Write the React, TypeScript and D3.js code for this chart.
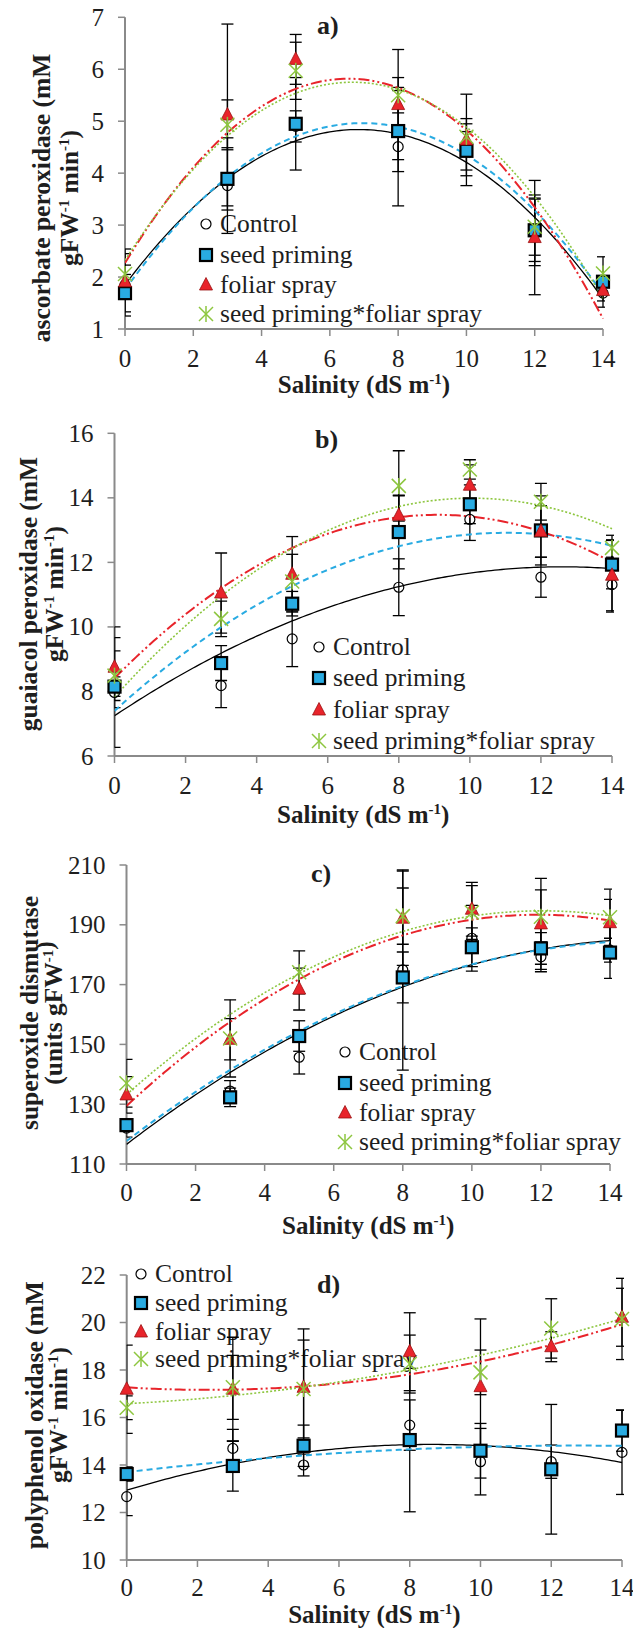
import React from "react";
import * as d3 from "d3";

// ---------- data ----------
const salinity = [0, 3, 5, 8, 10, 12, 14];
const xTickValues = [0, 2, 4, 6, 8, 10, 12, 14];
const seriesNames = ["Control", "seed priming", "foliar spray", "seed priming*foliar spray"];

// a) ascorbate peroxidase
const apxControl = [1.85, 3.76, 4.9, 4.51, 4.45, 2.9, 1.69];
const apxSeed = [1.69, 3.89, 4.95, 4.81, 4.43, 2.9, 1.91];
const apxFoliar = [1.91, 5.12, 6.19, 5.32, 4.64, 2.76, 1.74];
const apxBoth = [2.06, 4.93, 5.97, 5.5, 4.7, 2.97, 2.07];
const apxControlErr = [0.6, 0.92, 0.3, 1.14, 0.5, 0.6, 0.27];
const apxSeedErr = [0.36, 0.6, 0.89, 0.78, 0.37, 0.68, 0.1];
const apxFoliarErr = [0.32, 1.75, 0.48, 1.06, 0.88, 1.1, 0.2];
const apxBothErr = [0.48, 0.48, 0.55, 0.34, 0.35, 0.55, 0.32];
const apxTicks = [1, 2, 3, 4, 5, 6, 7];

// b) guaiacol peroxidase
const gpxControl = [7.97, 8.18, 9.63, 11.23, 13.33, 11.54, 11.31];
const gpxSeed = [8.15, 8.88, 10.72, 12.94, 13.8, 12.99, 11.93];
const gpxFoliar = [8.75, 11.05, 11.63, 13.46, 14.39, 12.96, 11.6];
const gpxBoth = [8.49, 10.25, 11.41, 14.37, 14.88, 13.88, 12.45];
const gpxControlErr = [1.7, 0.68, 0.86, 0.88, 0.65, 0.62, 0.85];
const gpxSeedErr = [0.3, 0.54, 0.38, 1.14, 0.6, 1.07, 0.75];
const gpxFoliarErr = [1.25, 1.24, 1.17, 0.6, 0.63, 0.8, 1.1];
const gpxBothErr = [0.77, 0.55, 0.84, 1.09, 0.3, 0.57, 0.39];
const gpxTicks = [6, 8, 10, 12, 14, 16];

// c) superoxide dismutase
const sodControl = [122.0, 134.4, 145.7, 174.9, 185.5, 179.3, 181.5];
const sodSeed = [123.0, 132.3, 152.8, 172.4, 182.5, 182.1, 180.7];
const sodFoliar = [133.1, 151.7, 168.5, 192.2, 195.2, 190.3, 190.7];
const sodBoth = [137.0, 152.0, 174.1, 192.9, 194.1, 192.7, 192.5];
const sodControlErr = [3, 3.5, 5.6, 33.5, 11, 5, 4];
const sodSeedErr = [2, 3.1, 5.1, 8.5, 6.5, 5.3, 8.6];
const sodFoliarErr = [6.1, 6.9, 7, 15.8, 9, 15.2, 7.8];
const sodBothErr = [8, 12.9, 7.2, 9.4, 9, 9, 9.4];
const sodTicks = [110, 130, 150, 170, 190, 210];

// d) polyphenol oxidase
const ppoControl = [12.67, 14.7, 14.0, 15.68, 14.14, 14.14, 14.53];
const ppoSeed = [13.62, 13.96, 14.81, 15.05, 14.6, 13.82, 15.45];
const ppoFoliar = [17.19, 17.19, 17.27, 18.77, 17.3, 18.98, 20.22];
const ppoBoth = [16.41, 17.27, 17.2, 18.25, 17.9, 19.75, 20.15];
const ppoControlErr = [0.8, 0.8, 0.46, 1.06, 1.4, 0.7, 1.77];
const ppoSeedErr = [0.3, 1.06, 0.87, 3.02, 1.15, 2.73, 0.87];
const ppoFoliarErr = [1.86, 2.19, 2.46, 1.64, 2.85, 0.63, 1.22];
const ppoBothErr = [0.5, 1.35, 2.06, 1.22, 0.94, 1.25, 1.71];
const ppoTicks = [10, 12, 14, 16, 18, 20, 22];

// ---------- styles ----------
const FONT = "'Liberation Serif', 'Times New Roman', Times, serif";
const AXIS = "#8a8a8a";
const TEXT = "#1e1e1e";
const BLUE = "#29abe2";
const RED = "#e8242b";
const GREEN = "#8dc63f";

const lineStyles = [
  { stroke: "#000", width: 1.3, dash: "" },
  { stroke: BLUE, width: 2, dash: "6,4" },
  { stroke: RED, width: 2, dash: "11,3,2,3,2,3" },
  { stroke: GREEN, width: 1.6, dash: "2,2" },
];

// ---------- panels ----------
const panels = [
  {
    key: "a", title: "a)", series: [apxControl, apxSeed, apxFoliar, apxBoth],
    errs: [apxControlErr, apxSeedErr, apxFoliarErr, apxBothErr], ticks: apxTicks,
    x0: 125, x1: 603, yTop: 17.3, yBot: 329,
    label: ["ascorbate peroxidase (mM", "gFW", "-1", " min", "-1", ")"],
    labelX: [50, 78], labelY: 198, titleX: 317, titleY: 34,
    xTickY: 367, xLabelY: 393, legendX: 206, legendY: [224, 255, 285, 314],
  },
  {
    key: "b", title: "b)", series: [gpxControl, gpxSeed, gpxFoliar, gpxBoth],
    errs: [gpxControlErr, gpxSeedErr, gpxFoliarErr, gpxBothErr], ticks: gpxTicks,
    x0: 114.5, x1: 612, yTop: 433.3, yBot: 756,
    label: ["guaiacol peroxidase (mM", "gFW", "-1", " min", "-1", ")"],
    labelX: [37, 63], labelY: 594, titleX: 315, titleY: 448,
    xTickY: 794, xLabelY: 823, legendX: 319, legendY: [647, 678, 710, 741],
  },
  {
    key: "c", title: "c)", series: [sodControl, sodSeed, sodFoliar, sodBoth],
    errs: [sodControlErr, sodSeedErr, sodFoliarErr, sodBothErr], ticks: sodTicks,
    x0: 126.5, x1: 610, yTop: 865, yBot: 1164,
    label: ["superoxide dismutase", "(units gFW", "-1", "", "", ")"],
    labelX: [38, 62], labelY: 1013, titleX: 311, titleY: 882,
    xTickY: 1201, xLabelY: 1234, legendX: 345, legendY: [1052, 1083, 1113, 1142],
  },
  {
    key: "d", title: "d)", series: [ppoControl, ppoSeed, ppoFoliar, ppoBoth],
    errs: [ppoControlErr, ppoSeedErr, ppoFoliarErr, ppoBothErr], ticks: ppoTicks,
    x0: 126.7, x1: 622, yTop: 1275, yBot: 1560,
    label: ["polyphenol oxidase (mM", "gFW", "-1", " min", "-1", ")"],
    labelX: [43, 67], labelY: 1415, titleX: 317, titleY: 1293,
    xTickY: 1596, xLabelY: 1623, legendX: 141, legendY: [1274, 1303, 1332, 1359],
  },
];

// quadratic least squares trendline (Excel polynomial order 2)
function quadFit(xs: number[], ys: number[]) {
  let n = xs.length, s1 = 0, s2 = 0, s3 = 0, s4 = 0, t0 = 0, t1 = 0, t2 = 0;
  for (let i = 0; i < n; i++) {
    const x = xs[i], y = ys[i];
    s1 += x; s2 += x * x; s3 += x * x * x; s4 += x * x * x * x;
    t0 += y; t1 += x * y; t2 += x * x * y;
  }
  const M = [[n, s1, s2], [s1, s2, s3], [s2, s3, s4]];
  const v = [t0, t1, t2];
  const det = (m: number[][]) =>
    m[0][0] * (m[1][1] * m[2][2] - m[1][2] * m[2][1]) -
    m[0][1] * (m[1][0] * m[2][2] - m[1][2] * m[2][0]) +
    m[0][2] * (m[1][0] * m[2][1] - m[1][1] * m[2][0]);
  const D = det(M);
  const coef = [0, 1, 2].map((c) => {
    const m = M.map((row, r) => row.map((val, k) => (k === c ? v[r] : val)));
    return det(m) / D;
  });
  return (x: number) => coef[0] + coef[1] * x + coef[2] * x * x;
}

function Marker({ kind, x, y }: { kind: number; x: number; y: number }) {
  if (kind === 0) return <circle cx={x} cy={y} r={5} fill="none" stroke="#000" strokeWidth={1.2} />;
  if (kind === 1)
    return <rect x={x - 6} y={y - 6} width={12} height={12} fill={BLUE} stroke="#000" strokeWidth={2.2} />;
  if (kind === 2)
    return (
      <path d={`M${x},${y - 7.5} L${x + 6.5},${y + 5} L${x - 6.5},${y + 5} Z`} fill={RED} stroke="#9a1010" strokeWidth={0.8} />
    );
  const s = 7;
  return (
    <g stroke={GREEN} strokeWidth={1.5}>
      <line x1={x - s} y1={y - s} x2={x + s} y2={y + s} />
      <line x1={x - s} y1={y + s} x2={x + s} y2={y - s} />
      <line x1={x} y1={y - s - 1} x2={x} y2={y + s + 1} />
    </g>
  );
}

function Panel({ p }: { p: (typeof panels)[number] }) {
  const xs = d3.scaleLinear().domain([0, 14]).range([p.x0, p.x1]);
  const ticks = p.ticks;
  const ys = d3.scaleLinear().domain([ticks[0], ticks[ticks.length - 1]]).range([p.yBot, p.yTop]);
  const curveX = d3.range(0, 14.0001, 0.1);
  const lineGen = (f: (x: number) => number) =>
    d3.line<number>().x((d) => xs(d)).y((d) => ys(f(d)))(curveX) || "";
  const fits = p.series.map((s) => quadFit(salinity, s));
  const clipId = "clip-" + p.key;

  return (
    <g>
      <defs>
        <clipPath id={clipId}>
          <rect x={p.x0} y={p.yTop - 60} width={p.x1 - p.x0 + 2} height={p.yBot - p.yTop + 60} />
        </clipPath>
      </defs>
      {/* axes */}
      <line x1={p.x0} y1={p.yBot} x2={p.x0} y2={p.yTop} stroke={AXIS} strokeWidth={2} />
      <line x1={p.x0} y1={p.yBot} x2={p.x1} y2={p.yBot} stroke={AXIS} strokeWidth={2} />
      {ticks.map((t) => (
        <g key={"yt" + t}>
          <line x1={p.x0 - 7} x2={p.x0} y1={ys(t)} y2={ys(t)} stroke={AXIS} strokeWidth={1.5} />
          <text x={p.x0 - 21} y={ys(t)} dy="0.34em" textAnchor="end" fontSize={25} fontFamily={FONT} fill={TEXT}>
            {t}
          </text>
        </g>
      ))}
      {xTickValues.map((t) => (
        <g key={"xt" + t}>
          <line x1={xs(t)} x2={xs(t)} y1={p.yBot} y2={p.yBot + 7} stroke={AXIS} strokeWidth={1.5} />
          <text x={xs(t)} y={p.xTickY} textAnchor="middle" fontSize={25} fontFamily={FONT} fill={TEXT}>
            {t}
          </text>
        </g>
      ))}
      {/* axis titles */}
      <text x={(p.x0 + p.x1) / 2} y={p.xLabelY} textAnchor="middle" fontSize={25} fontWeight="bold" fontFamily={FONT} fill={TEXT}>
        Salinity (dS m<tspan dy={-9} fontSize={15}>-1</tspan><tspan dy={9}>)</tspan>
      </text>
      <g transform={`translate(${p.labelX[0]},${p.labelY}) rotate(-90)`}>
        <text x={0} y={0} textAnchor="middle" fontSize={25.5} fontWeight="bold" fontFamily={FONT} fill={TEXT}>
          {p.label[0]}
        </text>
      </g>
      <g transform={`translate(${p.labelX[1]},${p.labelY}) rotate(-90)`}>
        <text x={0} y={0} textAnchor="middle" fontSize={25.5} fontWeight="bold" fontFamily={FONT} fill={TEXT}>
          {p.label[1]}
          <tspan dy={-9} fontSize={15}>{p.label[2]}</tspan>
          <tspan dy={9}>{p.label[3]}</tspan>
          {p.label[4] ? <tspan dy={-9} fontSize={15}>{p.label[4]}</tspan> : null}
          <tspan dy={p.label[4] ? 9 : 0}>{p.label[5]}</tspan>
        </text>
      </g>
      <text x={p.titleX} y={p.titleY} fontSize={26} fontWeight="bold" fontFamily={FONT} fill={TEXT}>
        {p.title}
      </text>
      {/* legend */}
      {seriesNames.map((name, i) => (
        <g key={"lg" + i}>
          <Marker kind={i} x={p.legendX} y={p.legendY[i]} />
          <text x={p.legendX + 14} y={p.legendY[i] + 8} fontSize={25.5} fontFamily={FONT} fill={TEXT}>
            {name}
          </text>
        </g>
      ))}
      {/* error bars and trendlines, clipped to the plot area */}
      <g clipPath={`url(#${clipId})`}>
        {p.series.map((s, si) =>
          s.map((v, i) => {
            const e = p.errs[si][i];
            const x = xs(salinity[i]);
            return (
              <g key={`eb${si}-${i}`} stroke="#000" strokeWidth={1.3}>
                <line x1={x} x2={x} y1={ys(v - e)} y2={ys(v + e)} />
                <line x1={x - 6} x2={x + 6} y1={ys(v - e)} y2={ys(v - e)} />
                <line x1={x - 6} x2={x + 6} y1={ys(v + e)} y2={ys(v + e)} />
              </g>
            );
          })
        )}
        {fits.map((f, si) => (
          <path key={"tl" + si} d={lineGen(f)} fill="none" stroke={lineStyles[si].stroke}
            strokeWidth={lineStyles[si].width} strokeDasharray={lineStyles[si].dash || undefined} />
        ))}
      </g>
      {/* markers */}
      {p.series.map((s, si) =>
        s.map((v, i) => <Marker key={`m${si}-${i}`} kind={si} x={xs(salinity[i])} y={ys(v)} />)
      )}
    </g>
  );
}

export default function App() {
  return (
    <svg width={633} height={1628} style={{ position: "absolute", left: 0, top: 0, background: "#fff" }}>
      <rect width={633} height={1628} fill="#fff" />
      {panels.map((p) => (
        <Panel key={p.key} p={p} />
      ))}
    </svg>
  );
}
